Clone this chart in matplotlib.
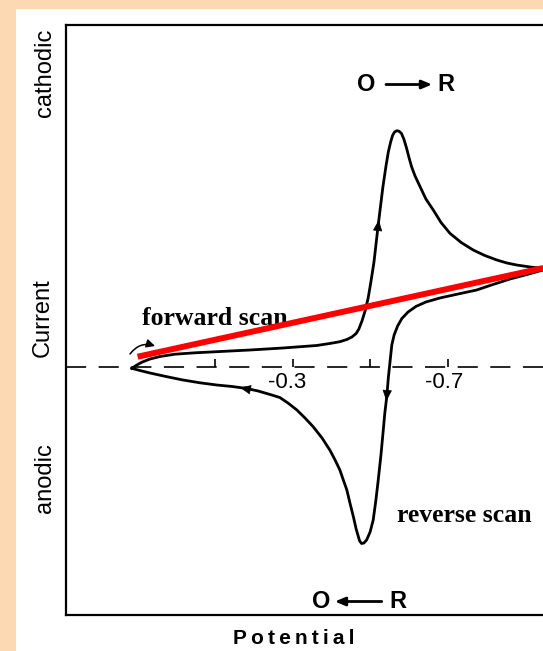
import matplotlib
matplotlib.use("Agg")
import matplotlib.pyplot as plt
from matplotlib.patches import Rectangle

plt.rcParams['font.family'] = ['Liberation Sans', 'DejaVu Sans']
plt.rcParams['lines.scale_dashes'] = False

# forward scan (potential in V, current in arbitrary units)
fwd_E = [0.116, 0.105, 0.090, 0.069, 0.043, 0.005, -0.047, -0.103, -0.189, -0.274,
         -0.361, -0.395, -0.421, -0.439, -0.452, -0.463, -0.470, -0.478, -0.486, -0.494,
         -0.501, -0.509, -0.519, -0.532, -0.540, -0.546, -0.552, -0.557, -0.562, -0.568,
         -0.574, -0.580, -0.586, -0.593, -0.599, -0.606, -0.615, -0.628, -0.643, -0.662,
         -0.682, -0.705, -0.734, -0.765, -0.795, -0.826, -0.852, -0.877, -0.912, -0.945]
fwd_I = [-0.13, 0.15, 0.48, 0.8, 1.05, 1.28, 1.42, 1.53, 1.7, 1.9,
         2.15, 2.35, 2.53, 2.75, 3.0, 3.35, 3.8, 4.6, 5.6, 6.9,
         8.5, 10.5, 13.9, 18.0, 20.1, 21.5, 22.5, 23.15, 23.5, 23.63,
         23.57, 23.35, 22.8, 21.9, 21.0, 20.03, 19.1, 18.03, 16.8, 15.7,
         14.45, 13.37, 12.45, 11.7, 11.15, 10.7, 10.4, 10.2, 10.0, 9.85]

# reverse scan
rev_E = [-0.945, -0.899, -0.860, -0.816, -0.774, -0.726, -0.679, -0.643, -0.617, -0.597,
         -0.581, -0.570, -0.561, -0.555, -0.552, -0.549, -0.546, -0.542, -0.537, -0.533,
         -0.527, -0.520, -0.514, -0.507, -0.499, -0.490, -0.483, -0.477, -0.472, -0.469,
         -0.463, -0.456, -0.447, -0.439, -0.429, -0.421, -0.408, -0.395, -0.375, -0.352,
         -0.331, -0.310, -0.287, -0.266, -0.241, -0.210, -0.181, -0.143, -0.103, -0.060,
         -0.016, 0.028, 0.069, 0.095, 0.116]
rev_I = [9.7, 9.2, 8.8, 8.25, 7.7, 7.3, 6.9, 6.5, 6.05, 5.5,
         4.85, 4.1, 3.2, 2.2, 1.1, 0.0, -1.1, -2.97, -4.6, -6.3,
         -8.8, -11.3, -13.3, -15.3, -16.5, -17.3, -17.6, -17.65, -17.4, -17.0,
         -16.2, -15.0, -13.6, -12.3, -11.2, -10.3, -9.25, -8.3, -7.1, -5.97,
         -5.1, -4.3, -3.6, -3.05, -2.75, -2.4, -2.15, -1.95, -1.8, -1.58,
         -1.3, -0.95, -0.6, -0.35, -0.13]

# red straight line
red_E = [0.101, -0.946]
red_I = [1.03, 9.9]

tick_E = [-0.1, -0.3, -0.5, -0.7]
tick_lbl_E = [-0.286, -0.690]
tick_lbl = ['-0.3', '-0.7']

fig = plt.figure(figsize=(5.43, 6.51), dpi=100)
fig.patch.set_facecolor('#FDD9B3')
fig.patches.append(Rectangle((16 / 543, 0), 1, 1 - 9 / 651, transform=fig.transFigure,
                             facecolor='white', edgecolor='none', zorder=-10))

ax = fig.add_axes([66 / 543, 36 / 651, 477 / 543, 590 / 651])
ax.set_facecolor('white')
ax.set_xlim(0.2858, -0.9452)
ax.set_ylim(-24.8, 34.2)
ax.spines['right'].set_visible(False)
for s in ['left', 'top', 'bottom']:
    ax.spines[s].set_linewidth(1.6)
ax.set_xticks([])
ax.set_yticks([])

ax.axhline(0, color='black', lw=1.2, dashes=[14.5, 9.0], zorder=1)
ax.vlines(tick_E, 0, 0.8, color='black', lw=1.2)
for e, t in zip(tick_lbl_E, tick_lbl):
    ax.text(e, -1.5, t, ha='center', va='center', fontsize=16)

ax.plot(fwd_E, fwd_I, color='black', lw=2.0, solid_joinstyle='round')
ax.plot(rev_E, rev_I, color='black', lw=2.0, solid_joinstyle='round')
ax.plot(red_E, red_I, color='#FF0000', lw=4.3, solid_capstyle='butt', zorder=5)

head = dict(arrowstyle='-|>,head_length=0.7,head_width=0.3', color='black', lw=0.5,
            shrinkA=0, shrinkB=0)
ax.annotate('', xy=(-0.5215, 14.7), xytext=(-0.514, 12.2), arrowprops=head)
ax.annotate('', xy=(-0.541, -3.4), xytext=(-0.5465, -0.8), arrowprops=head)
ax.annotate('', xy=(-0.163, -2.05), xytext=(-0.200, -2.35), arrowprops=head)
ax.annotate('', xy=(0.056, 2.1), xytext=(0.1206, 1.3),
            arrowprops=dict(arrowstyle='-|>,head_length=0.5,head_width=0.25', color='black',
                            lw=1.1, shrinkA=0, shrinkB=0, connectionstyle='arc3,rad=-0.35'))

serif = ['Liberation Serif', 'DejaVu Serif']
ax.text(0.0905, 4.2, 'forward scan', family=serif, fontweight='bold', fontsize=18.5,
        ha='left', va='baseline')
ax.text(-0.5676, -15.47, 'reverse scan', family=serif, fontweight='bold', fontsize=18.5,
        ha='left', va='baseline')

# O -> R and O <- R
ax.text(-0.488, 28.25, 'O', fontsize=17, fontweight='bold', ha='center', va='center')
ax.text(-0.695, 28.25, 'R', fontsize=17, fontweight='bold', ha='center', va='center')
ax.annotate('', xy=(-0.659, 28.25), xytext=(-0.540, 28.25),
            arrowprops=dict(arrowstyle='-|>,head_length=0.6,head_width=0.25', color='black',
                            lw=2.0, shrinkA=0, shrinkB=0))
ax.text(-0.3735, -23.45, 'O', fontsize=17, fontweight='bold', ha='center', va='center')
ax.text(-0.570, -23.45, 'R', fontsize=17, fontweight='bold', ha='center', va='center')
ax.annotate('', xy=(-0.408, -23.45), xytext=(-0.529, -23.45),
            arrowprops=dict(arrowstyle='-|>,head_length=0.6,head_width=0.25', color='black',
                            lw=2.0, shrinkA=0, shrinkB=0))

fig.text(45 / 543, 1 - 73 / 651, 'cathodic', rotation=90, fontsize=17, ha='center', va='center')
fig.text(43 / 543, 1 - 318 / 651, 'Current', rotation=90, fontsize=17, ha='center', va='center')
fig.text(45 / 543, 1 - 478 / 651, 'anodic', rotation=90, fontsize=17, ha='center', va='center')
fig.text(293.5 / 543, 1 - 638 / 651, 'P\u2009o\u2009t\u2009e\u2009n\u2009t\u2009i\u2009a\u2009l',
         fontsize=15, fontweight='bold', ha='center', va='center')

fig.savefig('out.png', dpi=100, facecolor=fig.get_facecolor())
